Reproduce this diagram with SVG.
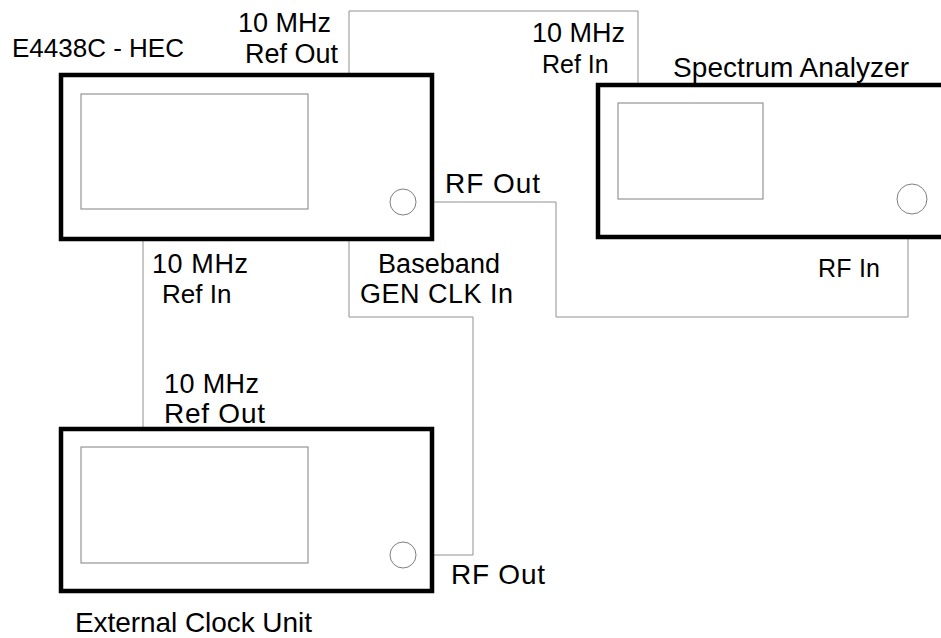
<svg xmlns="http://www.w3.org/2000/svg" width="941" height="638" viewBox="0 0 941 638">
<style>
.dev{fill:#fff;stroke:#000;stroke-width:4.5}
.scr{fill:none;stroke:#808080;stroke-width:1}
.port{fill:#fff;stroke:#808080;stroke-width:1}
.wire{fill:none;stroke:#909090;stroke-width:1}
text{font-family:"Liberation Sans",Arial,sans-serif;font-size:27px;fill:#000}
.s26{font-size:26px}
.s25{font-size:25px}
.s28{font-size:28px}
</style>
<rect width="941" height="638" fill="#fff"/>
<g id="connectors">
<path class="wire" d="M349,73 V11 H638 V83"/>
<path class="wire" d="M416,202 H556 V317 H908 V213"/>
<path class="wire" d="M143,241 V427"/>
<path class="wire" d="M349,241 V317 H473 V555 H416"/>
</g>
<g id="e4438c">
<rect class="dev" x="61" y="75" width="371" height="164"/>
<rect class="scr" x="81" y="94" width="227" height="115"/>
<circle class="port" cx="403" cy="202" r="13"/>
<text class="s26" x="12" y="57">E4438C - HEC</text>
<text x="238" y="32">10 MHz</text>
<text x="245" y="63">Ref Out</text>
<text class="s28" x="445" y="193" textLength="95">RF Out</text>
<text x="152" y="273" textLength="96">10 MHz</text>
<text class="s26" x="162" y="303">Ref In</text>
<text x="378" y="273" textLength="122">Baseband</text>
<text x="360" y="303" textLength="153">GEN CLK In</text>
</g>
<g id="spectrum-analyzer">
<rect class="dev" x="598" y="85" width="360" height="152"/>
<rect class="scr" x="618" y="103" width="145" height="96"/>
<circle class="port" cx="912" cy="199" r="15"/>
<text class="s28" x="673" y="77" textLength="236">Spectrum Analyzer</text>
<text x="532" y="42">10 MHz</text>
<text class="s25" x="542" y="73">Ref In</text>
<text class="s25" x="818" y="277" textLength="62">RF In</text>
</g>
<g id="external-clock">
<rect class="dev" x="61" y="429" width="371" height="162"/>
<rect class="scr" x="81" y="447" width="227" height="116"/>
<circle class="port" cx="403" cy="555" r="13"/>
<text x="164" y="393" textLength="95">10 MHz</text>
<text class="s28" x="164" y="423" textLength="101">Ref Out</text>
<text class="s28" x="451" y="584" textLength="94">RF Out</text>
<text class="s28" x="75" y="632" textLength="237">External Clock Unit</text>
</g>
</svg>
